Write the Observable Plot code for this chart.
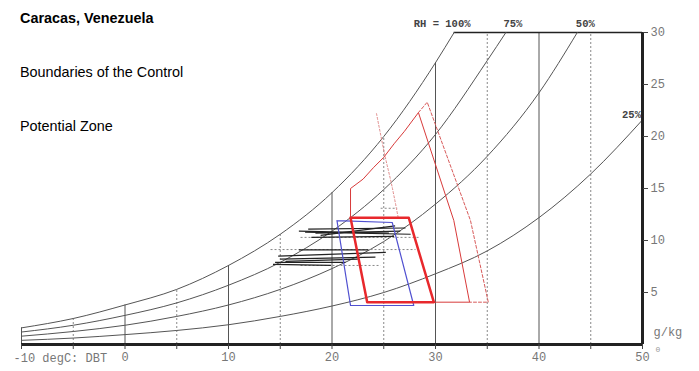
<!DOCTYPE html>
<html><head><meta charset="utf-8">
<script src="https://cdn.jsdelivr.net/npm/d3@7"></script>
<script src="https://cdn.jsdelivr.net/npm/@observablehq/plot@0.6"></script>
<style>
body{margin:0;background:#fff;}
#wrap{position:relative;width:699px;height:371px;overflow:hidden;}
.t{position:absolute;left:20px;font-family:Arial,"Liberation Sans",sans-serif;font-size:14.4px;color:#000;white-space:nowrap;}
</style></head><body>
<div id="wrap">
<div id="chart"></div>
<div class="t" style="top:10px;font-weight:bold">Caracas, Venezuela</div>
<div class="t" style="top:64px">Boundaries of the Control</div>
<div class="t" style="top:118px">Potential Zone</div>
</div>
<script>
// ---- relative humidity curves (dry bulb degC, humidity ratio g/kg) ----
const rhLabelText = ["RH = 100%", "75%", "50%", "25%"];
const rh100T = [-10, -5, 0, 5, 10, 15, 20, 25, 30, 31.8];
const rh100W = [1.6, 2.5, 3.8, 5.3, 7.6, 10.6, 14.6, 20.0, 27.1, 30];
const rh75T = [-10, -5, 0, 5, 10, 15, 20, 25, 30, 35, 36.8];
const rh75W = [1.2, 1.85, 2.8, 4.0, 5.7, 7.9, 10.9, 14.9, 20.2, 27.3, 30];
const rh50T = [-10, -5, 0, 5, 10, 15, 20, 25, 30, 35, 40, 43.7];
const rh50W = [0.8, 1.25, 1.85, 2.7, 3.8, 5.3, 7.3, 9.9, 13.5, 18.1, 24.2, 30];
const rh25T = [-10, -5, 0, 5, 10, 15, 20, 25, 30, 35, 40, 45, 50];
const rh25W = [0.4, 0.62, 0.95, 1.35, 1.9, 2.7, 3.7, 5.0, 6.8, 9.0, 12.2, 16.4, 21.6];

// ---- dry bulb grid lines ----
const gridT = [-10, -5, 0, 5, 10, 15, 20, 25, 30, 35, 40, 45];
const gridTop = [1.6, 2.5, 3.8, 5.3, 7.6, 10.6, 14.6, 20.0, 27.1, 30, 30, 30];
const topLineT = [31.8, 50];

// ---- axis ticks ----
const xTickVals = [-10, -5, 0, 5, 10, 15, 20, 25, 30, 35, 40, 45, 50];
const xTickLabels = ["", "", "0", "", "10", "", "20", "", "30", "", "40", "", "50"];
const xAxisTitle = "-10 degC: DBT";
const yTickVals = [5, 10, 15, 20, 25, 30];
const yUnit = "g/kg";
const yZero = "0";

// ---- monthly lines (start T, start W, end T, end W) ----
const monthT1 = [17.7, 18.4, 18.9, 17.4, 16.8, 18.0, 16.8, 14.8, 15.0, 14.5, 14.3, 15.5];
const monthW1 = [11.1, 10.7, 10.5, 10.8, 10.9, 10.3, 9.1, 8.5, 8.2, 7.9, 7.7, 8.0];
const monthT2 = [27.1, 26.6, 26.1, 27.6, 25.5, 26.0, 23.5, 25.2, 24.2, 21.3, 19.9, 22.5];
const monthW2 = [11.2, 10.9, 11.4, 10.6, 10.7, 10.4, 9.1, 8.85, 8.4, 7.9, 7.6, 8.2];
// dotted extensions
const extT1 = [16.96, 14.06, 16.96, 24.7];
const extW1 = [10.3, 9.13, 7.6, 13.1];
const extT2 = [28.55, 28.07, 24.7, 26.3];
const extW2 = [10.3, 9.13, 7.6, 13.1];

// ---- zones ----
const comfortT = [20.48, 25.82, 27.9, 21.79, 20.48];
const comfortW = [11.92, 11.73, 3.75, 3.75, 11.92];
const coreT = [21.79, 27.42, 29.84, 23.4, 21.79];
const coreW = [12.18, 12.18, 4.07, 4.07, 12.18];
const ventT = [21.79, 21.79, 23.0, 24.0, 25.0, 26.0, 27.0, 28.35, 31.77, 33.29, 29.84];
const ventW = [12.18, 15.0, 15.9, 17.0, 18.0, 19.3, 20.5, 22.3, 11.92, 4.07, 4.07];
const vent2T = [28.35, 29.2, 33.38, 35.1, 33.29];
const vent2W = [22.3, 23.3, 11.92, 4.07, 4.07];
const massT = [24.3, 25.07, 25.8, 26.4];
const massW = [22.2, 18.37, 15.2, 12.18];

// ---- build tables ----
const curves = [];
[[rh100T, rh100W], [rh75T, rh75W], [rh50T, rh50W], [rh25T, rh25W]].forEach(([T, W], k) =>
  T.forEach((t, i) => curves.push({k, t, w: W[i]})));
const grid = gridT.map((t, i) => ({t, top: gridTop[i]}));
const months = monthT1.map((t, i) => ({t1: t, w1: monthW1[i], t2: monthT2[i], w2: monthW2[i]}));
const exts = extT1.map((t, i) => ({t1: t, w1: extW1[i], t2: extT2[i], w2: extW2[i]}));
const pts = (T, W) => T.map((t, i) => ({t, w: W[i]}));
const xLab = new Map(xTickVals.map((v, i) => [v, xTickLabels[i]]));

const mono = "Liberation Mono, DejaVu Sans Mono, monospace";
const ends = [[rh100T, rh100W], [rh75T, rh75W], [rh50T, rh50W], [rh25T, rh25W]]
  .map(([T, W], k) => ({t: T[T.length - 1], w: W[W.length - 1], label: rhLabelText[k]}));
const labDx = [-12, 7, 8, -11];
const labDy = [-9, -9, -9, -5];
const xMax = xTickVals[xTickVals.length - 1];

const chart = Plot.plot({
  width: 699, height: 371,
  marginLeft: 21, marginRight: 57, marginTop: 32, marginBottom: 27,
  x: {domain: [-10, 50], axis: null},
  y: {domain: [0, 30], axis: null},
  style: {background: "#fff"},
  marks: [
    Plot.ruleX(grid.filter(d => d.t % 10 === 0), {x: "t", y1: 0, y2: "top", stroke: "#555", strokeWidth: 1}),
    Plot.ruleX(grid.filter(d => d.t % 10 !== 0), {x: "t", y1: 0, y2: "top", stroke: "#888", strokeWidth: 1, strokeDasharray: "2,2"}),
    Plot.ruleY([30], {x1: topLineT[0], x2: topLineT[1], stroke: "#222", strokeWidth: 1.5}),
    Plot.line(curves, {x: "t", y: "w", z: "k", curve: "monotone-x", stroke: "#555", strokeWidth: 1}),
    Plot.link(exts, {x1: "t1", y1: "w1", x2: "t2", y2: "w2", stroke: "#888", strokeWidth: 1, strokeDasharray: "2,2"}),
    Plot.link(months, {x1: "t1", y1: "w1", x2: "t2", y2: "w2", stroke: "#222", strokeWidth: 1.2}),
    Plot.line(pts(comfortT, comfortW), {x: "t", y: "w", stroke: "#5050d0", strokeWidth: 1.2}),
    Plot.line(pts(massT, massW), {x: "t", y: "w", stroke: "#e08a8a", strokeWidth: 1, strokeDasharray: "2,2", curve: "catmull-rom"}),
    Plot.line(pts(ventT, ventW), {x: "t", y: "w", stroke: "#d83a3a", strokeWidth: 1}),
    Plot.line(pts(vent2T, vent2W), {x: "t", y: "w", stroke: "#d85a5a", strokeWidth: 1, strokeDasharray: "3,2"}),
    Plot.line(pts(coreT, coreW), {x: "t", y: "w", stroke: "#e8282c", strokeWidth: 2.5}),
    Plot.ruleY([0], {x1: -10, x2: 50, stroke: "#222", strokeWidth: 3}),
    Plot.ruleX([50], {y1: 0, y2: 30, stroke: "#222", strokeWidth: 3}),
    Plot.axisX(xTickVals, {anchor: "bottom", tickSize: 5, tickPadding: 3, tickFormat: d => xLab.get(d), label: null,
      fontFamily: mono, fontSize: 12, fill: "#777", stroke: "#444"}),
    Plot.axisY(yTickVals, {anchor: "right", tickSize: 5, tickPadding: 3, label: null,
      fontFamily: mono, fontSize: 12, fill: "#777", stroke: "#444"}),
    Plot.text([xTickVals[0]], {x: d => d, y: () => 0, text: () => xAxisTitle, textAnchor: "start", dx: -8, dy: 14,
      fontFamily: mono, fontSize: 12, fill: "#777"}),
    Plot.text([xMax], {x: d => d, y: () => 0, text: () => yUnit, textAnchor: "start", dx: 11, dy: -12,
      fontFamily: mono, fontSize: 12, fill: "#777"}),
    Plot.text([xMax], {x: d => d, y: () => 0, text: () => yZero, textAnchor: "start", dx: 13, dy: 5,
      fontFamily: mono, fontSize: 8, fill: "#999"}),
    ...ends.map((d, i) => Plot.text([d], {x: "t", y: "w", text: "label", dx: labDx[i], dy: labDy[i],
      textAnchor: "middle", fontFamily: mono, fontSize: 10.5, fontWeight: "bold", fill: "#444"}))
  ]
});
document.getElementById("chart").appendChild(chart);
</script>
</body></html>
